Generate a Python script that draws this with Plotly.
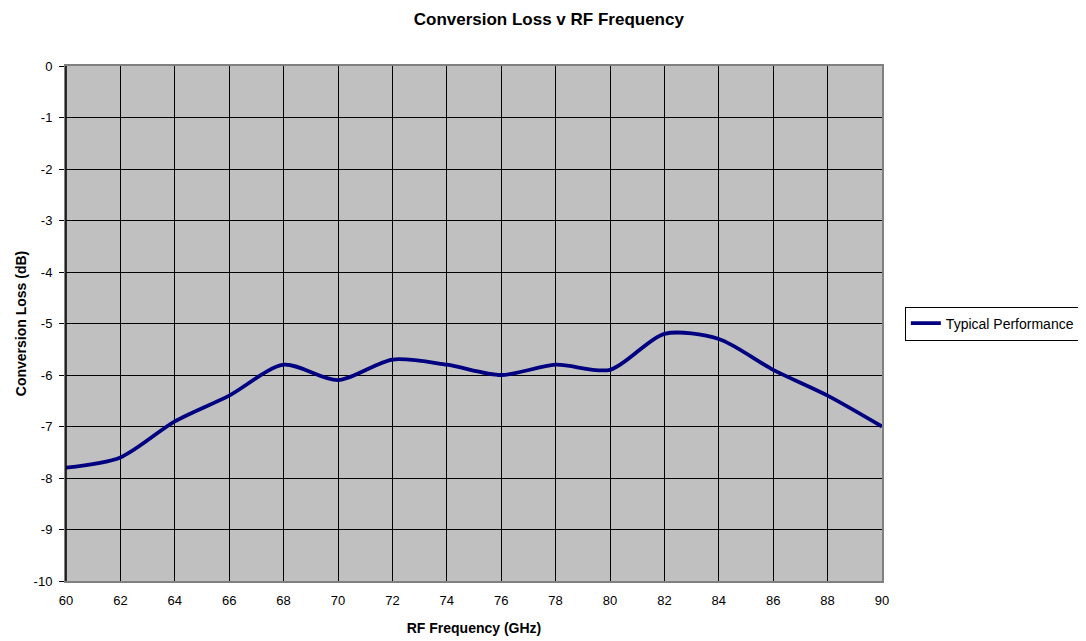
import plotly.graph_objects as go

freq = [60, 62, 64, 66, 68, 70, 72, 74, 76, 78, 80, 82, 84, 86, 88, 90]
loss = [-7.8, -7.6, -6.9, -6.4, -5.8, -6.1, -5.7, -5.8, -6.0, -5.8, -5.9, -5.2, -5.3, -5.9, -6.4, -7.0]
x_ticks = list(range(60, 91, 2))
y_ticks = list(range(-10, 1, 1))

fig = go.Figure()
fig.add_trace(go.Scatter(
    x=freq, y=loss, mode="lines", name="Typical Performance",
    line=dict(color="#000080", width=3.8, shape="spline", smoothing=0.8),
))

fig.update_layout(
    width=1086, height=641,
    margin=dict(l=58, r=212, t=58, b=68),
    paper_bgcolor="white", plot_bgcolor="#C0C0C0",
    font=dict(family="Liberation Sans, Arial, sans-serif", size=13, color="black"),
    title=dict(text="<b>Conversion Loss v RF Frequency</b>", x=0.498, xanchor="center",
               xref="container", y=1, yanchor="top", yref="container",
               pad=dict(t=5), font=dict(size=17)),
    showlegend=True,
    legend=dict(x=1.028, xanchor="left", y=0.5, yanchor="middle",
                bordercolor="black", borderwidth=1, bgcolor="white",
                font=dict(size=14), itemwidth=30, tracegroupgap=0),
    xaxis=dict(range=[60, 90], tickvals=x_ticks, ticktext=[str(v) for v in x_ticks],
               showgrid=True, gridcolor="black", gridwidth=1,
               showline=True, linecolor="#808080", linewidth=2, mirror=True,
               ticks="", zeroline=False, ticklabelstandoff=6, automargin=False,
               title=dict(text="<b>RF Frequency (GHz)</b>", font=dict(size=14), standoff=17)),
    yaxis=dict(range=[-10, 0], tickvals=y_ticks, ticktext=[str(v) for v in y_ticks],
               showgrid=True, gridcolor="black", gridwidth=1,
               showline=True, linecolor="#808080", linewidth=2, mirror=True,
               ticks="outside", ticklen=5, tickcolor="black", zeroline=False,
               ticklabelstandoff=4, automargin=False,
               title=dict(text="<b>Conversion Loss (dB)</b>", font=dict(size=14), standoff=4)),
)
# black left axis line like the original
fig.add_shape(type="line", xref="paper", yref="paper", x0=0, x1=0, y0=0, y1=1,
              line=dict(color="black", width=1.5), layer="above")

fig.write_html("out.html")
